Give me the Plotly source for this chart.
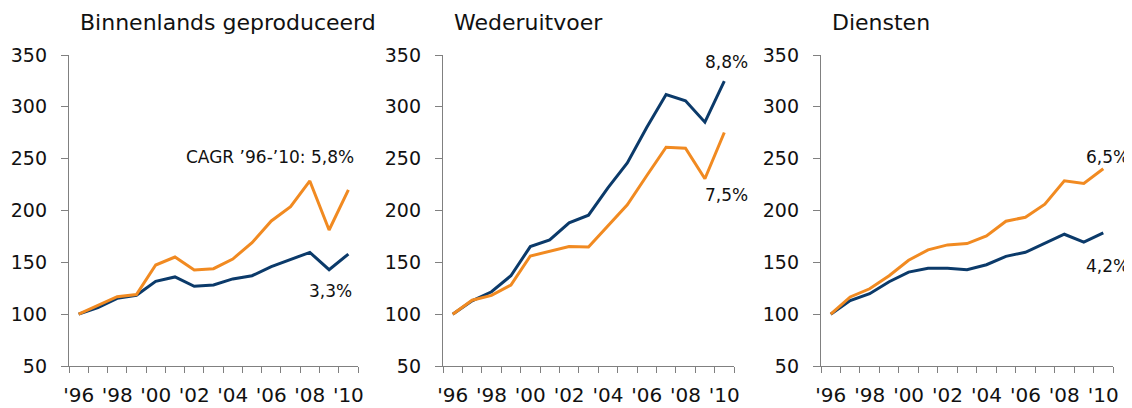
import plotly.graph_objects as go

years = list(range(1996, 2011))
tick_labels = ["'96", "'98", "'00", "'02", "'04", "'06", "'08", "'10"]
titles = ["Binnenlands geproduceerd", "Wederuitvoer", "Diensten"]

# Panel 1: Binnenlands geproduceerd
p1_blue = [100, 106.3, 115.3, 118.2, 131.7, 135.9, 126.9, 128.2, 134.0, 137.1, 145.8, 152.9, 159.6, 142.9, 158.0]
p1_orange = [100, 108.8, 116.9, 119.0, 147.4, 155.1, 142.6, 143.9, 153.2, 169.0, 189.9, 203.7, 228.5, 181.2, 219.8]
# Panel 2: Wederuitvoer
p2_blue = [100, 112.9, 121.6, 137.1, 165.2, 171.6, 188.1, 195.5, 221.9, 245.8, 280.0, 311.9, 305.8, 285.2, 324.8]
p2_orange = [100, 113.5, 118.1, 128.1, 156.1, 160.3, 165.2, 164.8, 185.5, 205.5, 233.5, 261.0, 260.0, 230.6, 275.2]
# Panel 3: Diensten
p3_blue = [100, 113.2, 119.7, 131.3, 140.6, 144.2, 144.2, 142.9, 147.7, 155.8, 159.7, 168.7, 177.1, 169.4, 178.4]
p3_orange = [100, 116.6, 124.5, 137.1, 152.0, 162.0, 166.8, 168.1, 175.5, 189.7, 193.5, 206.1, 228.7, 226.1, 240.3]

series = [(p1_blue, p1_orange), (p2_blue, p2_orange), (p3_blue, p3_orange)]

BLUE = "#0B3A6A"
ORANGE = "#F18A21"
AXIS = "#808080"
TEXT = "#111111"
FONT = "DejaVu Sans"

# The page body has an 8px default margin; lay the figure out in page pixels minus that offset.
OFF = 8
W, H = 1132 - OFF, 408 - OFF


def fx(px):
    return (px - OFF) / W


def fy(py):
    return 1 - (py - OFF) / H


x_domains_px = [(69, 358), (443, 734), (821, 1113)]
y_top_px, y_bot_px = 55, 366

fig = go.Figure()
idx = list(range(len(years)))

for i, (blue, orange) in enumerate(series):
    xa = "x" if i == 0 else f"x{i+1}"
    ya = "y" if i == 0 else f"y{i+1}"
    fig.add_trace(go.Scatter(x=idx, y=blue, mode="lines", line=dict(color=BLUE, width=3),
                             xaxis=xa, yaxis=ya, showlegend=False))
    fig.add_trace(go.Scatter(x=idx, y=orange, mode="lines", line=dict(color=ORANGE, width=3),
                             xaxis=xa, yaxis=ya, showlegend=False))
    x0, x1 = x_domains_px[i]
    xkey = "xaxis" if i == 0 else f"xaxis{i+1}"
    ykey = "yaxis" if i == 0 else f"yaxis{i+1}"
    fig.layout[xkey] = dict(
        domain=[fx(x0), fx(x1)], range=[-0.5, len(years) - 0.5], anchor=ya,
        tickmode="array", tickvals=idx[::2], ticktext=tick_labels,
        ticks="outside", ticklen=6, tickcolor="rgba(0,0,0,0)",
        minor=dict(tickmode="linear", tick0=-0.5, dtick=1, ticks="outside", ticklen=6, tickcolor=AXIS, tickwidth=1.3),
        showline=True, linecolor=AXIS, linewidth=1.3, showgrid=False, zeroline=False,
        tickfont=dict(family=FONT, size=20, color=TEXT), ticklabelstandoff=5,
        automargin=False, fixedrange=True,
    )
    fig.layout[ykey] = dict(
        domain=[fy(y_bot_px), fy(y_top_px)], range=[50, 350], anchor=xa,
        tickmode="linear", tick0=50, dtick=50,
        ticks="outside", ticklen=7, tickcolor=AXIS, tickwidth=1.3,
        showline=True, linecolor=AXIS, linewidth=1.3, showgrid=False, zeroline=False,
        tickfont=dict(family=FONT, size=19, color=TEXT), ticklabelstandoff=10,
        automargin=False, fixedrange=True,
    )
    fig.add_annotation(text=titles[i], xref="paper", yref="paper", x=fx(x0 + 9), y=fy(22),
                       xanchor="left", yanchor="middle", showarrow=False,
                       font=dict(family=FONT, size=22, color=TEXT))

labels = [
    ("CAGR ’96-’10: 5,8%", 270, 157),
    ("3,3%", 330, 291),
    ("8,8%", 726, 62),
    ("7,5%", 726, 195),
    ("6,5%", 1107, 157),
    ("4,2%", 1107, 266),
]
for text, px, py in labels:
    fig.add_annotation(text=text, xref="paper", yref="paper", x=fx(px), y=fy(py),
                       xanchor="center", yanchor="middle", showarrow=False,
                       font=dict(family=FONT, size=17, color=TEXT))

fig.update_layout(width=W, height=H, margin=dict(l=0, r=0, t=0, b=0, pad=0),
                  paper_bgcolor="white", plot_bgcolor="white", showlegend=False)

fig.write_html("out.html")
